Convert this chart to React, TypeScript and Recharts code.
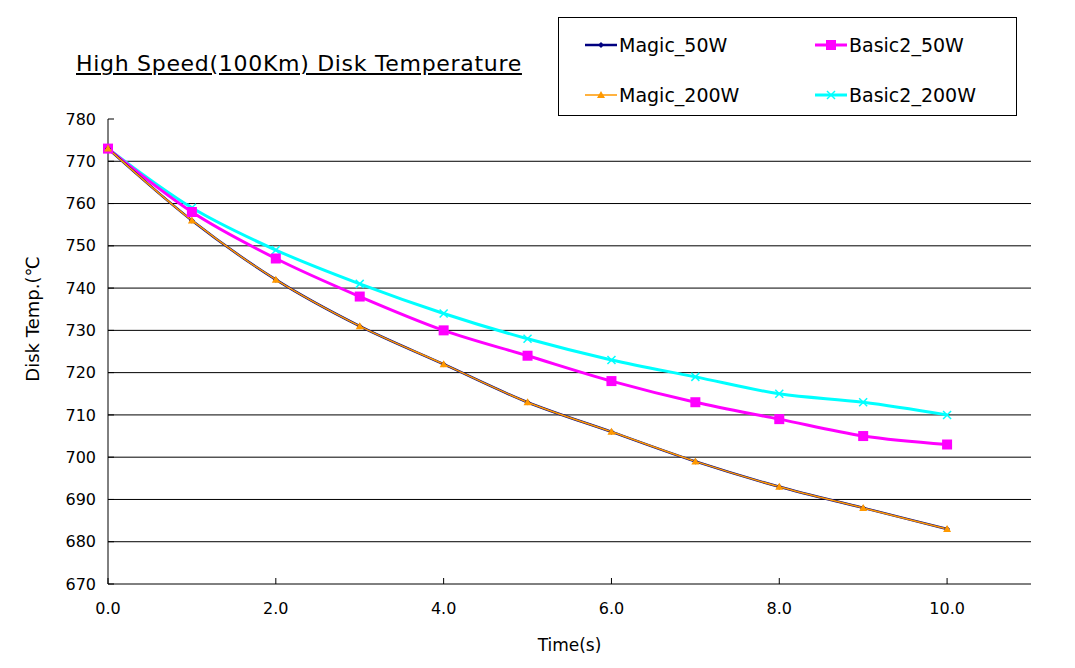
import React from 'react';
import { LineChart, Line, XAxis, YAxis, CartesianGrid, Legend } from 'recharts';

const times = [0, 1, 2, 3, 4, 5, 6, 7, 8, 9, 10];
const magic50W = [773, 756, 742, 731, 722, 713, 706, 699, 693, 688, 683];
const basic2_50W = [773, 758, 747, 738, 730, 724, 718, 713, 709, 705, 703];
const magic200W = [773, 756, 742, 731, 722, 713, 706, 699, 693, 688, 683];
const basic2_200W = [773, 759, 749, 741, 734, 728, 723, 719, 715, 713, 710];

const xTicks = [0, 2, 4, 6, 8, 10];
const yTicks = [670, 680, 690, 700, 710, 720, 730, 740, 750, 760, 770, 780];
const gridValues = [680, 690, 700, 710, 720, 730, 740, 750, 760, 770];

const data = times.map((t, i) => ({
  t,
  magic50W: magic50W[i],
  basic2_50W: basic2_50W[i],
  magic200W: magic200W[i],
  basic2_200W: basic2_200W[i],
}));

const NAVY = '#000080';
const MAGENTA = '#FF00FF';
const ORANGE = '#FF9900';
const CYAN = '#00FFFF';

const FONT = '"DejaVu Sans", "Liberation Sans", sans-serif';

type Marker = 'diamond' | 'square' | 'triangle' | 'cross';

function MarkerShape({ kind, cx, cy, color }: { kind: Marker; cx: number; cy: number; color: string }) {
  if (kind === 'square') return <rect x={cx - 5} y={cy - 5} width={10} height={10} fill={color} />;
  if (kind === 'diamond')
    return <polygon points={`${cx},${cy - 3} ${cx + 3},${cy} ${cx},${cy + 3} ${cx - 3},${cy}`} fill={color} />;
  if (kind === 'triangle')
    return <polygon points={`${cx},${cy - 4} ${cx + 4},${cy + 3} ${cx - 4},${cy + 3}`} fill={color} />;
  return (
    <g stroke={color} strokeWidth={1.5}>
      <line x1={cx - 4} y1={cy - 4} x2={cx + 4} y2={cy + 4} />
      <line x1={cx - 4} y1={cy + 4} x2={cx + 4} y2={cy - 4} />
    </g>
  );
}

const series = [
  { key: 'basic2_200W', name: 'Basic2_200W', color: CYAN, width: 3, marker: 'cross' as Marker },
  { key: 'basic2_50W', name: 'Basic2_50W', color: MAGENTA, width: 3, marker: 'square' as Marker },
  { key: 'magic50W', name: 'Magic_50W', color: NAVY, width: 2.5, marker: 'diamond' as Marker },
  { key: 'magic200W', name: 'Magic_200W', color: ORANGE, width: 1.5, marker: 'triangle' as Marker },
];

const legendOrder = ['magic50W', 'basic2_50W', 'magic200W', 'basic2_200W'];

function LegendBox() {
  return (
    <div
      style={{
        position: 'relative',
        width: 459,
        height: 99,
        boxSizing: 'border-box',
        border: '1px solid #000',
        background: '#fff',
        fontFamily: FONT,
        fontSize: 19,
        color: '#000',
      }}
    >
      {legendOrder.map((k, i) => {
        const s = series.find((x) => x.key === k)!;
        const col = i % 2;
        const row = Math.floor(i / 2);
        const left = col === 0 ? 26 : 256;
        const top = row === 0 ? 27 : 77;
        return (
          <div key={k} style={{ position: 'absolute', left, top: top - 12, height: 24, display: 'flex', alignItems: 'center' }}>
            <svg width={32} height={24} style={{ display: 'block' }}>
              <line x1={0} y1={12} x2={32} y2={12} stroke={s.color} strokeWidth={s.width} />
              <MarkerShape kind={s.marker} cx={16} cy={12} color={s.color} />
            </svg>
            <span style={{ marginLeft: 2, whiteSpace: 'nowrap', lineHeight: '24px' }}>{s.name}</span>
          </div>
        );
      })}
    </div>
  );
}

export default function App() {
  return (
    <div
      style={{
        position: 'absolute',
        left: 0,
        top: 0,
        width: 1075,
        height: 668,
        background: '#fff',
        fontFamily: FONT,
      }}
    >
      <div
        style={{
          position: 'absolute',
          left: 76,
          top: 53,
          fontSize: 22,
          lineHeight: '22px',
          letterSpacing: 0.7,
          textDecoration: 'underline',
          color: '#000',
          whiteSpace: 'nowrap',
          fontFamily: FONT,
        }}
      >
        High Speed(100Km) Disk Temperature
      </div>
      <LineChart width={1075} height={668} data={data} margin={{ top: 119, right: 44, bottom: 24, left: 48 }}>
        <CartesianGrid horizontal vertical={false} stroke="#000" strokeWidth={1} horizontalValues={gridValues} />
        <XAxis
          dataKey="t"
          type="number"
          domain={[0, 11]}
          ticks={xTicks}
          tickFormatter={(v: number) => v.toFixed(1)}
          height={60}
          stroke="#000"
          tickSize={-6}
          tickMargin={25}
          tick={{ fill: '#000', fontSize: 16, fontFamily: FONT }}
          label={{
            content: (p: any) => {
              const vb = p.viewBox || { x: 108, width: 923 };
              return (
                <text x={vb.x + vb.width / 2} y={651} textAnchor="middle" fontSize={17} fontFamily={FONT} fill="#000">
                  Time(s)
                </text>
              );
            },
          }}
        />
        <YAxis
          type="number"
          domain={[670, 780]}
          ticks={yTicks}
          width={60}
          stroke="#000"
          tickSize={-6}
          tickMargin={18}
          tick={{ fill: '#000', fontSize: 16, fontFamily: FONT }}
          label={{
            content: () => (
              <text
                x={39}
                y={319}
                transform="rotate(-90 39 319)"
                textAnchor="middle"
                fontSize={18}
                fontFamily={FONT}
                fill="#000"
              >
                Disk Temp.(℃
              </text>
            ),
          }}
        />
        <Legend
          layout="horizontal"
          verticalAlign="middle"
          align="center"
          wrapperStyle={{ left: 558, top: 17, width: 459, height: 99 }}
          content={() => <LegendBox />}
        />
        {series.map((s) => (
          <Line
            key={s.key}
            type="monotone"
            dataKey={s.key}
            name={s.name}
            stroke={s.color}
            strokeWidth={s.width}
            isAnimationActive={false}
            dot={(p: any) => <MarkerShape key={`${s.key}-${p.index}`} kind={s.marker} cx={p.cx} cy={p.cy} color={s.color} />}
            activeDot={false}
          />
        ))}
      </LineChart>
    </div>
  );
}
